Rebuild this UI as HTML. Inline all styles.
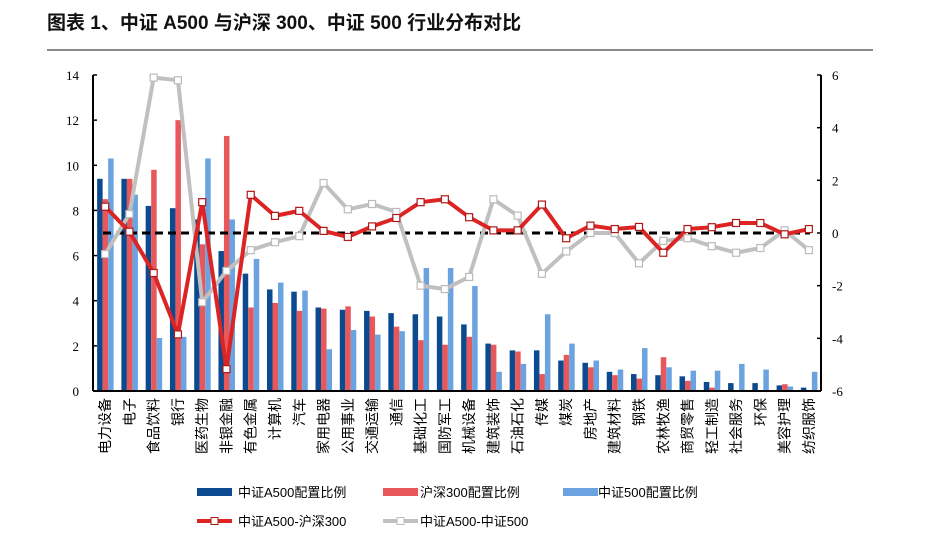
<!DOCTYPE html>
<html><head><meta charset="utf-8"><style>
html,body{margin:0;padding:0;background:#fff;width:929px;height:537px;overflow:hidden}
svg text{font-family:"Liberation Sans","Noto Sans CJK SC",sans-serif}
svg text.tk{font-family:"Liberation Serif",serif}
</style></head><body>
<svg id="s" width="929" height="537" xmlns="http://www.w3.org/2000/svg">
<text x="47" y="29" font-size="19" font-weight="bold" fill="#111">图表 1、中证 A500 与沪深 300、中证 500 行业分布对比</text>
<line x1="47" y1="50" x2="873" y2="50" stroke="#444" stroke-width="1.2"/>
<g id="g"></g>
</svg>
<script>
const cats=["电力设备","电子","食品饮料","银行","医药生物","非银金融","有色金属","计算机","汽车","家用电器","公用事业","交通运输","通信","基础化工","国防军工","机械设备","建筑装饰","石油石化","传媒","煤炭","房地产","建筑材料","钢铁","农林牧渔","商贸零售","轻工制造","社会服务","环保","美容护理","纺织服饰"];
const A=[9.4,9.4,8.2,8.1,7.6,6.2,5.2,4.5,4.4,3.7,3.6,3.55,3.45,3.4,3.3,2.95,2.1,1.8,1.8,1.35,1.25,0.85,0.75,0.7,0.65,0.4,0.35,0.35,0.25,0.15];
const H=[8.5,9.4,9.8,12.0,6.5,11.3,3.7,3.9,3.55,3.65,3.75,3.3,2.85,2.25,2.05,2.4,2.05,1.75,0.75,1.6,1.05,0.7,0.55,1.5,0.45,0.15,0,0,0.3,0];
const Z=[10.3,8.7,2.35,2.4,10.3,7.6,5.85,4.8,4.45,1.85,2.7,2.5,2.65,5.45,5.45,4.65,0.85,1.2,3.4,2.1,1.35,0.95,1.9,1.05,0.9,0.9,1.2,0.95,0.2,0.85];
const R=[1.0,0.05,-1.52,-3.85,1.17,-5.17,1.45,0.65,0.84,0.08,-0.15,0.25,0.57,1.17,1.28,0.6,0.1,0.1,1.08,-0.2,0.28,0.15,0.23,-0.75,0.15,0.22,0.38,0.38,-0.05,0.15];
const G=[-0.8,0.72,5.9,5.8,-2.63,-1.44,-0.65,-0.35,-0.12,1.9,0.9,1.1,0.8,-2.0,-2.13,-1.67,1.28,0.66,-1.55,-0.7,0,0,-1.15,-0.3,-0.2,-0.5,-0.75,-0.57,0.1,-0.65];
const x0=93,x1=821,yb=391,yt=75,n=30,w=(x1-x0)/n;
const yl=v=>yb-v*(yb-yt)/14, yr=v=>233-v*(233-75)/6, cx=i=>x0+w*(i+0.5);
let s='';
for(let i=0;i<n;i++){const c=cx(i);
 [[A,'#0b4a8f',-8],[H,'#e8585a',-2.5],[Z,'#6aa3e0',3]].forEach(([d,col,o])=>{
  s+=`<rect x="${c+o}" y="${yl(d[i])}" width="5.5" height="${yb-yl(d[i])}" fill="${col}"/>`;});
}
s+=`<line x1="103" y1="233" x2="810" y2="233" stroke="#000" stroke-width="3" stroke-dasharray="8,5"/>`;
s+=`<polyline points="${G.map((v,i)=>cx(i)+','+yr(v)).join(' ')}" fill="none" stroke="#c0c0c0" stroke-width="4" stroke-linejoin="round"/>`;
s+=`<polyline points="${R.map((v,i)=>cx(i)+','+yr(v)).join(' ')}" fill="none" stroke="#dc2424" stroke-width="4" stroke-linejoin="round"/>`;
G.forEach((v,i)=>s+=`<rect x="${cx(i)-3.5}" y="${yr(v)-3.5}" width="7" height="7" fill="#fff" stroke="#bbb" stroke-width="1.2"/>`);
R.forEach((v,i)=>s+=`<rect x="${cx(i)-3.5}" y="${yr(v)-3.5}" width="7" height="7" fill="#fff" stroke="#b01818" stroke-width="1.2"/>`);
s+=`<line x1="${x0}" y1="${yt}" x2="${x0}" y2="${yb}" stroke="#000" stroke-width="2"/>`;
s+=`<line x1="${x1}" y1="${yt}" x2="${x1}" y2="${yb}" stroke="#000" stroke-width="2"/>`;
s+=`<line x1="${x0}" y1="${yb}" x2="${x1}" y2="${yb}" stroke="#000" stroke-width="2"/>`;
for(let v=0;v<=14;v+=2){const y=yl(v);s+=`<line x1="${x0}" y1="${y}" x2="${x0+4}" y2="${y}" stroke="#000" stroke-width="1.5"/><text class="tk" x="79" y="${y+5}" font-size="13" text-anchor="end">${v}</text>`;}
for(let v=-6;v<=6;v+=2){const y=yr(v);s+=`<line x1="${x1-4}" y1="${y}" x2="${x1}" y2="${y}" stroke="#000" stroke-width="1.5"/><text class="tk" x="832" y="${y+5}" font-size="13">${v}</text>`;}
cats.forEach((t,i)=>{const c=cx(i)+5;s+=`<text transform="translate(${c},398) rotate(-90)" font-size="14" text-anchor="end" fill="#000">${t}</text>`;});
s+=`<rect x="197" y="488" width="35" height="8" fill="#0b4a8f"/><text x="238" y="497" font-size="13">中证A500配置比例</text>`;
s+=`<rect x="383" y="488" width="35" height="8" fill="#e8585a"/><text x="420" y="497" font-size="13">沪深300配置比例</text>`;
s+=`<rect x="563" y="488" width="35" height="8" fill="#6aa3e0"/><text x="598" y="497" font-size="13">中证500配置比例</text>`;
s+=`<line x1="197" y1="521" x2="232" y2="521" stroke="#dc2424" stroke-width="4"/><rect x="211" y="517.5" width="7" height="7" fill="#fff" stroke="#b01818"/><text x="238" y="526" font-size="13">中证A500-沪深300</text>`;
s+=`<line x1="383" y1="521" x2="418" y2="521" stroke="#c0c0c0" stroke-width="4"/><rect x="397" y="517.5" width="7" height="7" fill="#fff" stroke="#bbb"/><text x="420" y="526" font-size="13">中证A500-中证500</text>`;
document.getElementById('g').innerHTML=s;
</script>
</body></html>
